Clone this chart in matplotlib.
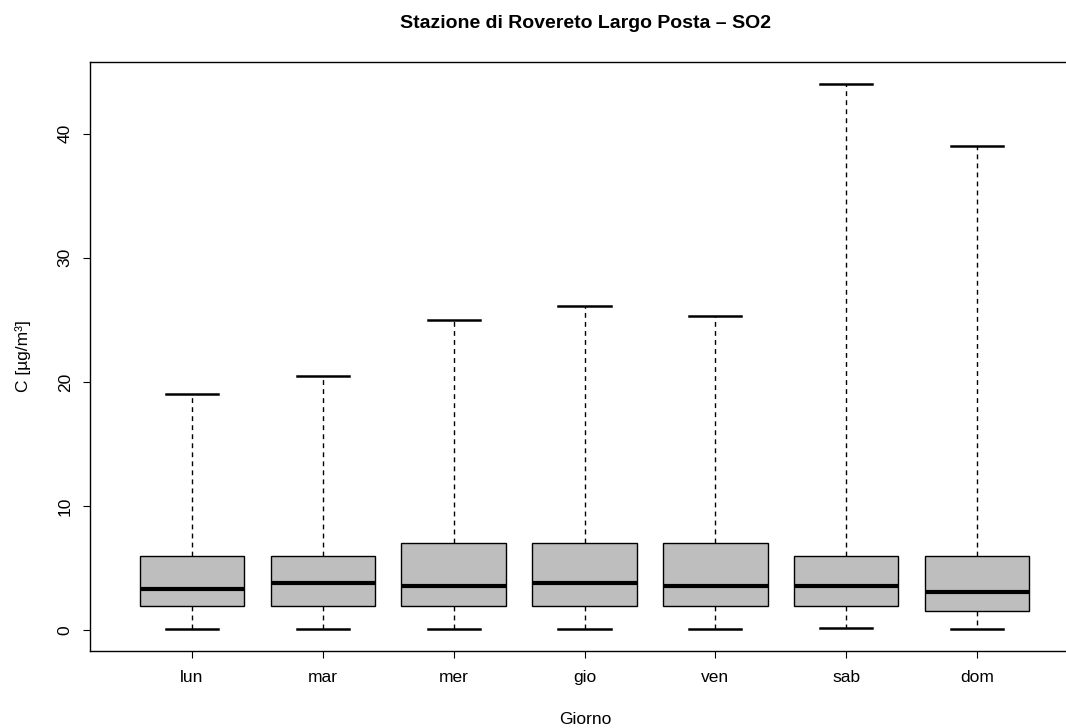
import matplotlib
matplotlib.use('Agg')
import matplotlib.pyplot as plt

# Data (SO2, ug/m3, per weekday)
days = ['lun', 'mar', 'mer', 'gio', 'ven', 'sab', 'dom']
whisker_low = [0.1, 0.1, 0.1, 0.1, 0.1, 0.2, 0.1]
q1 = [2.0, 2.0, 2.0, 2.0, 2.0, 2.0, 1.6]
median = [3.3, 3.8, 3.6, 3.8, 3.6, 3.6, 3.1]
q3 = [6.0, 6.0, 7.0, 7.0, 7.0, 6.0, 6.0]
whisker_high = [19.0, 20.5, 25.0, 26.1, 25.3, 44.0, 39.0]

plt.rcParams['font.family'] = ['Liberation Sans', 'DejaVu Sans']

fig = plt.figure(figsize=(10.66, 7.28), dpi=100)
# the right edge of the frame falls outside the picture, as in the reference
ax = fig.add_axes([90 / 1066, 77 / 728, 989 / 1066, 589 / 728])

stats = []
for i in range(len(days)):
    stats.append({'label': days[i], 'whislo': whisker_low[i], 'q1': q1[i],
                  'med': median[i], 'q3': q3[i], 'whishi': whisker_high[i]})

ax.bxp(stats, positions=range(1, len(days) + 1), widths=0.8, showfliers=False,
       patch_artist=True,
       boxprops=dict(facecolor='#bebebe', edgecolor='black', linewidth=1.0),
       medianprops=dict(color='black', linewidth=3.0, solid_capstyle='butt'),
       whiskerprops=dict(color='black', linewidth=1.0, linestyle=(0, (3.5, 3))),
       capprops=dict(color='black', linewidth=1.8),
       capwidths=0.4)

# R style axis limits (4% expansion)
lo = min(whisker_low)
hi = max(whisker_high)
pad = (hi - lo) * 0.04
ax.set_ylim(lo - pad, hi + pad)
ax.set_xlim(0.5 - 0.28, 7.5 + 0.28)

ax.set_yticks([0, 10, 20, 30, 40])
ax.set_xticks(range(1, len(days) + 1))
ax.set_xticklabels(days)
ax.tick_params(axis='both', direction='out', length=5, width=0.8, labelsize=12.5)
ax.tick_params(axis='x', pad=9)
ax.tick_params(axis='y', pad=7.5)
for lab in ax.get_yticklabels():
    lab.set_rotation(90)
    lab.set_va('center')

for s in ax.spines.values():
    s.set_linewidth(1.0)

fig.text(23 / 1066, 1 - 356 / 728, 'C [µg/m³]', rotation=90,
         ha='center', va='center', fontsize=12.5)
fig.text(585 / 1066, 1 - 719 / 728, 'Giorno', ha='center', va='center', fontsize=12.5)
fig.text(585 / 1066, 1 - 23 / 728, 'Stazione di Rovereto Largo Posta – SO2',
         ha='center', va='center', fontsize=14, fontweight='bold')

fig.savefig('out.png', dpi=100)
